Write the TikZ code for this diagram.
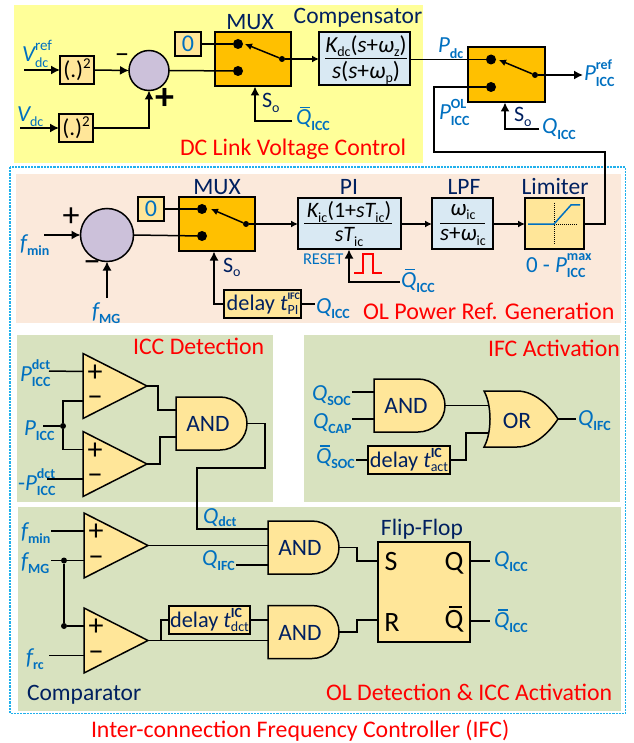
\documentclass[tikz,border=0pt]{standalone}
\usepackage{fontspec}
\setmainfont{Carlito}
\usetikzlibrary{arrows.meta,calc}
\definecolor{cblue}{HTML}{0070C0}
\definecolor{cnavy}{HTML}{002060}
\definecolor{cmux}{HTML}{FFC000}
\definecolor{clight}{HTML}{FFE699}
\definecolor{cbox}{HTML}{D9E9F3}
\definecolor{csum}{HTML}{CCC1DA}
\definecolor{cyel}{HTML}{FFFF99}
\definecolor{cpeach}{HTML}{FBE9DB}
\definecolor{cgreen}{HTML}{D8E2BF}
\definecolor{cdot}{HTML}{1FB0EC}
\newcommand\fs[1]{\fontsize{#1}{#1}\selectfont}
\newcommand\ssb[3]{{\itshape #1}\rlap{\raisebox{.52em}{\fs{14}\bfseries #2}}\raisebox{-.22em}{\fs{14}#3}}
\newcommand\qb{\rlap{\hspace{.17em}\raisebox{.72em}{\rule{.42em}{.07em}}}{\itshape Q}}
\newcommand\qbu{\rlap{\hspace{.17em}\raisebox{.72em}{\rule{.46em}{.07em}}}Q}
\newcommand\sbm[1]{\raisebox{-.2em}{\fs{14}#1}}
\newcommand\sbb[1]{\raisebox{-.22em}{\fs{14}\bfseries #1}}
\newcommand\icc{\sbb{ICC}}
\tikzset{
 wire/.style={line width=1.5pt,line join=miter},
 arr/.style={wire,-{Latex[length=9pt,width=9pt]}},
 arrs/.style={wire,-{Latex[length=7pt,width=7pt]}},
 boxb/.style={draw=black,line width=1.5pt,inner sep=0,outer sep=0},
 lb/.style={inner sep=0,outer sep=0,anchor=base west,text=cblue,font=\fs{23}},
 nv/.style={inner sep=0,outer sep=0,text=cnavy,font=\fs{23.5}},
 rd/.style={inner sep=0,outer sep=0,anchor=base west,text=red,font=\fs{23.8}},
 dotb/.style={circle,fill=black,inner sep=0,outer sep=0,minimum size=10pt},
 dots/.style={circle,fill=black,inner sep=0,outer sep=0,minimum size=6pt},
 sgn/.style={inner sep=0,outer sep=0,font=\fs{30},text=black},
 dlyt/.style={boxb,fill=clight,text=cnavy,font=\fs{22.3}}
}
\newcommand\compar[2]{%
 \begin{scope}[shift={(#2)}]
  \draw[boxb,fill=clight] (0,0) -- (64,32.5) -- (0,65) -- cycle;
  \coordinate (#1o) at (64,32.5);
  \coordinate (#1p) at (0,18);
  \coordinate (#1m) at (0,47.5);
  \node[sgn] (#1ps) at (12,19.5) {+};
  \node[sgn] (#1ms) at (12,48) {−};
 \end{scope}}
\newcommand\andg[2]{%
 \begin{scope}[shift={(#2)}]
  \draw[boxb,fill=clight] (0,0) -- (44,0) .. controls (59,0) and (71,12) .. (71,26.5) .. controls (71,41) and (59,53) .. (44,53) -- (0,53) -- cycle;
  \coordinate (#1o) at (71,26.5);
  \node[nv] (#1t) at (32,27) {AND};
 \end{scope}}
\begin{document}
\begin{tikzpicture}[x=1pt,y=-1pt]
\useasboundingbox (0,0) rectangle (633,743);
% regions
\fill[cyel] (14,5) rectangle (423,163);
\fill[cpeach] (16,174) rectangle (621,323);
\fill[cgreen] (17,335) rectangle (273,502);
\fill[cgreen] (304,335) rectangle (620,502);
\fill[cgreen] (18,507) rectangle (621,711);
\draw[cdot,line width=1.8pt,dash pattern=on 2.2pt off 1pt] (10,167) rectangle (625.5,713.5);
% --- DC link
\node[boxb,fill=clight,minimum width=34,minimum height=28] (sq1) at (77,70) {\fs{23}(.)\raisebox{.4em}{\fs{15}2}};
\node[boxb,fill=clight,minimum width=34,minimum height=28] (sq2) at (76,128) {\fs{23}(.)\raisebox{.4em}{\fs{15}2}};
\node[draw=black,line width=1.5pt,circle,fill=csum,minimum size=40pt,inner sep=0,outer sep=0] (sum1) at (149,70.5) {};
\node[boxb,fill=cmux,minimum width=76,minimum height=54,anchor=north west] (mux1) at (215,32) {};
\node[boxb,fill=clight,minimum width=26,minimum height=24,text=cblue,font=\fs{24}] (zero1) at (188,44) {0};
\node[dotb] (c1a) at (238,44) {};
\node[dotb] (c1b) at (238,71) {};
\node[dots] (p1) at (282,59) {};
\node[boxb,fill=cbox,minimum width=91,minimum height=53,anchor=north west] (comp) at (319,32) {};
\node[inner sep=0,font=\fs{23}] (compn) at (366,46) {{\itshape K}\sbm{dc}({\itshape s}+{\itshape ω}\sbm{z})};
\node[inner sep=0,font=\fs{23.5}] (compd) at (366,73) {{\itshape s}({\itshape s}+{\itshape ω}\sbm{p})};
\draw[wire] ([xshift=6]comp.west) -- ([xshift=-3]comp.east);
\node[boxb,fill=cmux,minimum width=77,minimum height=55,anchor=north west] (mux3) at (468,47) {};
\node[dotb] (c3a) at (491,59.5) {};
\node[dotb] (c3b) at (491,87) {};
\node[dots] (p3) at (535,75) {};
\coordinate (t1) at (245,44);
\coordinate (t3) at (499,60);
\coordinate (in1a) at (24,70);
\coordinate (in1b) at (20,128);
\draw[arr] (in1a) -- (sq1.west);
\draw[arr] (in1b) -- (sq2.west);
\draw[arr] (sq1.east) -- (sum1.west);
\draw[arr] (sq2.east) -| (sum1.south);
\draw[wire] (sum1.east) -- (c1b);
\draw[wire] (zero1.east) -- (c1a);
\draw[arrs] (p1) -- (t1);
\draw[arrs] (p1) -- (p1-|comp.west);
\draw[wire] (comp.east|-c3a) -- (c3a);
\draw[arrs] (p3) -- (t3);
\coordinate (out3) at (583,75);
\draw[arr] (p3) -- (out3);
\coordinate (qm1) at (292,121);
\draw[arr] (qm1) -| (255,86.5);
\coordinate (qm3) at (539,129);
\draw[arr] (qm3) -| (505,102.5);
\node[sgn,font=\fs{28}] (s1m) at (122,58.5) {−};
\node[sgn,font=\bfseries\fs{38}] (s1p) at (165,99) {+};
\node[lb] (lvr) at (22,62) {\ssb{V}{\fs{15}\mdseries ref}{dc}};
\node[lb] (lvd) at (17,122) {{\itshape V}\sbm{dc}};
\node[nv] (tm1) at (250,22) {MUX};
\node[nv] (tcomp) at (358,18) {Compensator};
\node[lb,text=cnavy,font=\fs{22}] (so1) at (262,108) {S\raisebox{-.2em}{\fs{14}o}};
\node[lb] (lq1) at (296,125) {\qb\icc};
\node[lb] (lpdc) at (438,53) {{\itshape P}\sbb{dc}};
\node[lb] (lpref) at (584,81) {\ssb{P}{ref}{\bfseries ICC}};
\node[lb] (lpol) at (439,120) {\ssb{P}{OL}{\bfseries ICC}};
\node[lb,text=cnavy,font=\fs{22}] (so3) at (514,122) {S\raisebox{-.2em}{\fs{14}o}};
\node[lb] (lq3) at (542,134) {{\itshape Q}\icc};
\node[rd] (t1dc) at (180,156) {DC Link Voltage Control};
% --- OL power ref
\node[draw=black,line width=1.5pt,circle,fill=csum,minimum size=53pt,inner sep=0,outer sep=0] (sum2) at (107,235) {};
\node[boxb,fill=cmux,minimum width=76,minimum height=54,anchor=north west] (mux2) at (179,197) {};
\node[boxb,fill=clight,minimum width=26,minimum height=24,text=cblue,font=\fs{24}] (zero2) at (151,209) {0};
\node[dotb] (c2a) at (202,209) {};
\node[dotb] (c2b) at (202,236) {};
\node[dots] (p2) at (246,224) {};
\node[boxb,fill=cbox,minimum width=103,minimum height=51,anchor=north west] (pi) at (298,198) {};
\node[inner sep=0,font=\fs{22}] (pin) at (349,212) {{\itshape K}\sbm{ic}(1+{\itshape sT}\sbm{ic})};
\node[inner sep=0,font=\fs{22}] (pid) at (349,237) {{\itshape sT}\sbm{ic}};
\draw[wire] ([xshift=6]pi.west) -- ([xshift=-9]pi.east);
\node[boxb,fill=cbox,minimum width=61,minimum height=51,anchor=north west] (lpf) at (432,198) {};
\node[inner sep=0,font=\fs{23}] (lpn) at (463,212) {{\itshape ω}\sbm{ic}};
\node[inner sep=0,font=\fs{23}] (lpd) at (463,237) {{\itshape s}+{\itshape ω}\sbm{ic}};
\draw[wire] ([xshift=8]lpf.west) -- ([xshift=-8]lpf.east);
\node[boxb,fill=clight,minimum width=59,minimum height=51,anchor=north west] (lim) at (525,198) {};
\draw[black,line width=1pt,densely dotted] (554,203) -- (554,245);
\draw[black,line width=1pt,densely dotted] (554,224) -- (578,224);
\draw[cblue,line width=1.5pt] (528,224) -- (554,224) -- (571,205) -- (580,205);
\node[dlyt,minimum width=77,minimum height=28] (dly1) at (262.5,304) {delay {\itshape t}\rlap{\raisebox{.46em}{\fs{10}\bfseries IFC}}\raisebox{-.2em}{\fs{14}PI}};
\coordinate (inf1) at (44,235);
\coordinate (inf2) at (107,298);
\draw[arr] (inf1) -- (sum2.west);
\draw[arr] (inf2) -- (sum2.south);
\draw[wire] (sum2.east) -- (c2b);
\draw[wire] (zero2.east) -- (c2a);
\draw[arrs] (p2) -- (211,209);
\draw[arrs] (p2) -- (p2-|pi.west);
\draw[arrs] (pi.east|-p2) -- (p2-|lpf.west);
\draw[arrs] (lpf.east|-p2) -- (p2-|lim.west);
\draw[arr] (dly1.west) -| (214,251.5);
\coordinate (qd1) at (315,304);
\draw[wire] (dly1.east) -- (qd1);
\coordinate (qr) at (400,282);
\draw[arr] (qr) -| (349,249.5);
\draw[red,line width=1.5pt] (354,273) -- (363,273) -- (363,254) -- (373,254) -- (373,273) -- (382,273);
\draw[wire] (lim.east|-p2) -| (605,152) -| (434,87) -- (c3b);
\node[sgn,font=\fs{34}] (s2p) at (71,217) {+};
\node[sgn,font=\fs{34}] (s2m) at (92,267) {−};
\node[lb] (lfm) at (20,250) {{\itshape f}\sbb{min}};
\node[lb] (lfg) at (92,318) {{\itshape f}\sbb{MG}};
\node[nv] (tm2) at (217,187) {MUX};
\node[nv] (tpi) at (349,187) {PI};
\node[nv] (tlpf) at (464,187) {LPF};
\node[nv] (tlim) at (555,187) {Limiter};
\node[lb,text=cnavy,font=\fs{22}] (so2) at (223,272) {S\raisebox{-.2em}{\fs{14}o}};
\node[lb] (lq2) at (316,313) {{\itshape Q}\icc};
\node[lb,font=\fs{16.5}] (lrst) at (303,264) {RESET};
\node[lb] (lq2b) at (401,287) {\qb\icc};
\node[lb] (llim) at (526,272) {0 - \ssb{P}{max}{\bfseries ICC}};
\node[rd,font=\fs{24}] (t2ol) at (363,319) {OL Power Ref. Generation};
% --- ICC detection
\compar{a}{83,353.5}
\compar{b}{83,431.5}
\andg{g1}{176,397}
\node[dots] (ja) at (63,426) {};
\coordinate (ipd) at (49,371);
\coordinate (ipi) at (43,426);
\coordinate (ipn) at (47,479);
\draw[wire] (ipd) -- (ap);
\draw[wire] (ipi) -- (ja);
\draw[wire] (am) -| (ja) |- (bp);
\draw[wire] (ipn) -- (bm);
\draw[wire] (ao) -- (158,386) |- (176,410);
\draw[wire] (bo) -- (160,464) |- (176,437);
\coordinate (qdct) at (268,529);
\draw[wire] (g1o) -- (265,423.5) -- (265,468) -| (197,529) -- (qdct);
\node[rd] (t3icc) at (133,354) {ICC Detection};
\node[lb] (lpd1) at (20,381) {\ssb{P}{dct}{\bfseries ICC}};
\node[lb] (lpi) at (24,435) {{\itshape P}\icc};
\node[lb] (lpd2) at (18,490) {-\ssb{P}{dct}{\bfseries ICC}};
% --- IFC activation
\andg{g2}{374,379}
\draw[boxb,fill=clight] (484,391) -- (517,391) .. controls (534,391) and (549,405) .. (558,419) .. controls (549,433) and (534,447) .. (517,447) -- (484,447) .. controls (492,433) and (492,405) .. (484,391) -- cycle;
\node[nv] (ort) at (517,421) {OR};
\node[dlyt,minimum width=82,minimum height=28] (dly2) at (409,460) {delay {\itshape t}\rlap{\raisebox{.46em}{\fs{14}\bfseries IC}}\raisebox{-.2em}{\fs{14}act}};
\coordinate (iqs) at (352,392);
\coordinate (iqc) at (352,419);
\coordinate (iqb) at (356,460);
\coordinate (or1) at (489,405.5);
\coordinate (or2) at (489,433);
\coordinate (oro) at (558,419);
\coordinate (qifc) at (576,419);
\draw[wire] (iqs) -- (374,392);
\draw[wire] (iqc) -- (374,419);
\draw[wire] (iqb) -- (dly2.west);
\draw[wire] (g2o) -- (or1);
\draw[wire] (dly2.east) -- (466,460) |- (or2);
\draw[wire] (oro) -- (qifc);
\node[rd] (t4ifc) at (488,356) {IFC Activation};
\node[lb] (lqs) at (312,400) {{\itshape Q}\sbb{SOC}};
\node[lb] (lqc) at (313,428) {{\itshape Q}\sbb{CAP}};
\node[lb] (lqsb) at (316,463.5) {\qb\sbb{SOC}};
\node[lb] (lqi) at (578,425) {{\itshape Q}\sbb{IFC}};
% --- OL detection
\compar{c}{84,513}
\compar{d}{84,608}
\andg{g3}{268,521}
\andg{g4}{268,605.5}
\node[boxb,fill=clight,minimum width=92,minimum height=100,anchor=north west] (ff) at (378,542) {};
\node[dlyt,minimum width=81,minimum height=28] (dly3) at (209.5,620) {delay {\itshape t}\rlap{\raisebox{.46em}{\fs{14}\bfseries IC}}\raisebox{-.2em}{\fs{14}dct}};
\node[dots] (jb) at (64,560.5) {};
\node[dots] (jc) at (64,626) {};
\coordinate (ifm) at (51,531);
\coordinate (ifg) at (51,560.5);
\coordinate (ifr) at (49,655.5);
\coordinate (iqf) at (236,565);
\draw[wire] (ifm) -- (cp);
\draw[wire] (ifg) -- (cm);
\draw[wire] (jb) -- (jc) -- (dp);
\draw[wire] (ifr) -- (dm);
\draw[wire] (co) -- (268,545.5);
\draw[wire] (iqf) -- (268,565);
\draw[wire] (do) -- (268,640.5);
\coordinate (jd) at (161,640.5);
\draw[wire] (jd) |- (dly3.west);
\draw[wire] (dly3.east) -- (268,620);
\draw[wire] (g3o) -- (357,547.5) |- (378,561);
\draw[wire] (g4o) -- (357,632) |- (378,620);
\coordinate (oq) at (490,561);
\coordinate (oqb) at (490,621);
\draw[wire] (ff.east|-oq) -- (oq);
\draw[wire] (ff.east|-oqb) -- (oqb);
\node[inner sep=0,font=\fs{28}] (fs) at (391,562) {S};
\node[inner sep=0,font=\fs{28}] (fq) at (454,563) {Q};
\node[inner sep=0,font=\fs{28}] (fr) at (392,623) {R};
\node[inner sep=0,font=\fs{28}] (fqb) at (454,619) {\qbu};
\node[nv] (tff) at (422,529) {Flip-Flop};
\node[lb] (lfm2) at (21,538) {{\itshape f}\sbb{min}};
\node[lb] (lfg2) at (21,568) {{\itshape f}\sbb{MG}};
\node[lb] (lfr) at (26,664) {{\itshape f}\sbb{rc}};
\node[lb] (lqd) at (203,523) {{\itshape Q}\raisebox{-.17em}{\fs{14}\bfseries dct}};
\node[lb] (lqf) at (202,565) {{\itshape Q}\sbb{IFC}};
\node[lb] (lqo) at (494,566.5) {{\itshape Q}\icc};
\node[lb] (lqob) at (494,627.5) {\qb\icc};
\node[nv,anchor=base west] (tcmp) at (27,700) {Comparator};
\node[rd] (t5ol) at (326,700) {OL Detection \& ICC Activation};
\node[rd] (t6) at (91,737) {Inter-connection Frequency Controller (IFC)};
\end{tikzpicture}
\end{document}
